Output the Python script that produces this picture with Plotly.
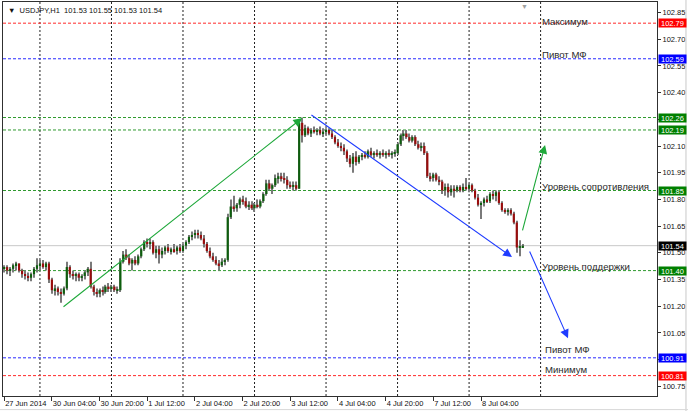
import plotly.graph_objects as go

# ---------------- data ----------------
title_text = "USDJPY,H1  101.53 101.55 101.53 101.54"

opens = [
    101.41,101.42,101.40,101.41,101.43,101.44,101.40,101.38,101.37,101.36,
    101.38,101.41,101.43,101.44,101.42,101.44,101.35,101.29,101.30,101.28,
    101.27,101.30,101.42,101.38,101.37,101.38,101.36,101.37,101.39,101.41,
    101.31,101.28,101.27,101.29,101.28,101.31,101.30,101.31,101.29,101.29,
    101.45,101.49,101.47,101.44,101.46,101.44,101.48,101.52,101.56,101.55,
    101.56,101.50,101.52,101.49,101.51,101.53,101.51,101.52,101.51,101.53,
    101.51,101.54,101.56,101.59,101.60,101.61,101.60,101.58,101.55,101.51,
    101.48,101.46,101.44,101.43,101.45,101.46,101.70,101.76,101.75,101.77,
    101.80,101.79,101.76,101.77,101.75,101.77,101.76,101.79,101.83,101.89,
    101.86,101.88,101.92,101.93,101.92,101.91,101.88,101.87,101.88,101.86,
    102.23,102.16,102.20,102.17,102.19,102.18,102.19,102.17,102.18,102.19,
    102.17,102.15,102.12,102.10,102.09,102.07,102.03,102.00,102.04,102.01,
    102.04,102.05,102.04,102.07,102.05,102.06,102.05,102.06,102.05,102.06,
    102.05,102.06,102.06,102.11,102.16,102.17,102.15,102.13,102.15,102.11,
    102.09,102.10,102.06,101.93,101.92,101.94,101.91,101.90,101.85,101.87,
    101.84,101.86,101.85,101.87,101.85,101.87,101.86,101.88,101.85,101.81,
    101.77,101.78,101.80,101.79,101.83,101.82,101.84,101.78,101.74,101.73,
    101.74,101.72,101.67,101.53,101.53,
]
highs = [
    101.43,101.43,101.42,101.44,101.45,101.44,101.41,101.40,101.39,101.39,
    101.42,101.47,101.46,101.46,101.45,101.45,101.36,101.32,101.31,101.30,
    101.31,101.45,101.43,101.40,101.39,101.39,101.38,101.40,101.42,101.45,
    101.32,101.30,101.30,101.31,101.32,101.33,101.32,101.32,101.31,101.47,
    101.51,101.52,101.49,101.47,101.48,101.49,101.53,101.57,101.58,101.58,
    101.57,101.54,101.54,101.53,101.54,101.55,101.53,101.55,101.54,101.55,
    101.55,101.57,101.60,101.62,101.63,101.63,101.62,101.60,101.56,101.53,
    101.50,101.48,101.46,101.47,101.47,101.72,101.80,101.82,101.78,101.81,
    101.82,101.81,101.79,101.79,101.78,101.80,101.80,101.84,101.91,101.91,
    101.89,101.94,101.95,101.95,101.95,101.93,101.90,101.90,101.90,102.25,
    102.26,102.22,102.21,102.20,102.21,102.20,102.21,102.20,102.20,102.20,
    102.19,102.16,102.14,102.12,102.11,102.08,102.05,102.06,102.07,102.05,
    102.06,102.07,102.08,102.09,102.07,102.08,102.07,102.08,102.07,102.08,
    102.07,102.08,102.12,102.17,102.19,102.19,102.17,102.16,102.16,102.13,
    102.12,102.12,102.07,101.95,101.95,101.95,101.93,101.91,101.89,101.89,
    101.88,101.88,101.88,101.88,101.89,101.92,101.89,101.89,101.86,101.83,
    101.79,101.81,101.82,101.84,101.85,101.85,101.85,101.79,101.75,101.75,
    101.75,101.73,101.68,101.57,101.55,
]
lows = [
    101.39,101.38,101.37,101.39,101.40,101.39,101.36,101.35,101.34,101.34,
    101.36,101.39,101.40,101.41,101.40,101.33,101.27,101.26,101.26,101.22,
    101.26,101.29,101.36,101.35,101.34,101.34,101.34,101.35,101.37,101.30,
    101.26,101.25,101.25,101.26,101.27,101.28,101.28,101.28,101.27,101.28,
    101.44,101.46,101.43,101.40,101.43,101.43,101.47,101.51,101.53,101.52,
    101.49,101.47,101.44,101.47,101.49,101.50,101.49,101.50,101.49,101.50,
    101.50,101.52,101.55,101.57,101.58,101.58,101.57,101.53,101.50,101.47,
    101.45,101.43,101.40,101.42,101.43,101.45,101.69,101.73,101.73,101.75,
    101.77,101.75,101.74,101.74,101.73,101.75,101.75,101.78,101.82,101.85,
    101.83,101.87,101.89,101.90,101.89,101.86,101.86,101.85,101.85,101.86,
    102.12,102.15,102.16,102.15,102.17,102.16,102.16,102.15,102.16,102.16,
    102.14,102.11,102.09,102.07,102.05,102.01,101.98,101.95,101.99,102.00,
    102.02,102.03,102.03,102.04,102.03,102.04,102.03,102.04,102.03,102.04,
    102.03,102.04,102.05,102.10,102.13,102.14,102.12,102.12,102.10,102.08,
    102.07,102.05,101.92,101.90,101.90,101.90,101.88,101.83,101.82,101.81,
    101.82,101.81,101.84,101.84,101.84,101.85,101.84,101.84,101.80,101.76,
    101.69,101.76,101.78,101.78,101.80,101.79,101.77,101.73,101.72,101.71,
    101.71,101.66,101.50,101.48,101.53,
]
closes = [
    101.42,101.40,101.41,101.43,101.44,101.40,101.38,101.37,101.36,101.38,
    101.41,101.43,101.44,101.42,101.44,101.35,101.29,101.30,101.28,101.27,
    101.30,101.42,101.38,101.37,101.38,101.36,101.37,101.39,101.41,101.31,
    101.28,101.27,101.29,101.28,101.31,101.30,101.31,101.29,101.29,101.45,
    101.49,101.47,101.44,101.46,101.44,101.48,101.52,101.56,101.55,101.56,
    101.50,101.52,101.49,101.51,101.53,101.51,101.52,101.51,101.53,101.51,
    101.54,101.56,101.59,101.60,101.61,101.60,101.58,101.55,101.51,101.48,
    101.46,101.44,101.43,101.45,101.46,101.70,101.76,101.75,101.77,101.80,
    101.79,101.76,101.77,101.75,101.77,101.76,101.79,101.83,101.89,101.86,
    101.88,101.92,101.93,101.92,101.91,101.88,101.87,101.88,101.86,102.23,
    102.16,102.20,102.17,102.19,102.18,102.19,102.17,102.18,102.19,102.17,
    102.15,102.12,102.10,102.09,102.07,102.03,102.00,102.04,102.01,102.04,
    102.05,102.04,102.07,102.05,102.06,102.05,102.06,102.05,102.06,102.05,
    102.06,102.06,102.11,102.16,102.17,102.15,102.13,102.15,102.11,102.09,
    102.10,102.06,101.93,101.92,101.94,101.91,101.90,101.85,101.87,101.84,
    101.86,101.85,101.87,101.85,101.87,101.86,101.88,101.85,101.81,101.77,
    101.78,101.80,101.79,101.83,101.82,101.84,101.78,101.74,101.73,101.74,
    101.72,101.67,101.53,101.53,101.54,
]

# x axis: bar index of labelled bars and their labels
x_tick_idx = [0, 16, 32, 48, 64, 80, 96, 112, 128, 144, 160]
x_tick_text = ["27 Jun 2014", "30 Jun 04:00", "30 Jun 20:00", "1 Jul 12:00",
               "2 Jul 04:00", "2 Jul 20:00", "3 Jul 12:00", "4 Jul 04:00",
               "4 Jul 20:00", "7 Jul 12:00", "8 Jul 04:00"]
# day separators (00:00 bars)
day_grid_idx = [12, 36, 60, 84, 108, 132, 156, 180]

# y axis ticks
y_tick_vals = [100.75, 100.90, 101.05, 101.20, 101.35, 101.50, 101.65,
               101.80, 101.95, 102.10, 102.25, 102.40, 102.55, 102.70, 102.85]

# horizontal levels
level_prices = [102.79, 102.59, 102.26, 102.19, 101.85, 101.40, 100.91, 100.81]
level_names = ["Максимум", "Пивот МФ", "", "", "Уровень сопротивления",
               "Уровень поддержки", "Пивот МФ", "Минимум"]
level_kind = ["max", "pivot", "res", "res", "res", "sup", "pivot", "max"]
bid_price = 101.54

# hand-drawn trend arrows (bar index, price) -> (bar index, price)
arrow_start_x = [19.4, 102.6, 173.8, 176.1]
arrow_start_y = [101.19, 102.28, 101.617, 101.516]
arrow_end_x = [100.0, 170.4, 181.5, 189.2]
arrow_end_y = [102.257, 101.476, 102.106, 101.02]
arrow_kind = ["up", "down", "up", "down"]

# ---------------- styles ----------------
FONT = "Liberation Sans"
kind_line_color = {"max": "#ff2a2a", "pivot": "#2a2aff", "res": "#2e9a2e", "sup": "#2e9a2e"}
kind_box_color = {"max": "#ff0000", "pivot": "#0000ff", "res": "#008000", "sup": "#008000"}
arrow_color = {"up": "#1ea83a", "down": "#1f3cff"}
UP_BODY = "#0d5e0d"
DOWN_BODY = "#9a0c0c"
WICK = "#7a7a7a"

n = len(closes)
xs = list(range(n))

fig = go.Figure()

# wicks
fig.add_trace(go.Bar(
    x=xs, base=lows, y=[h - l for h, l in zip(highs, lows)], width=0.36,
    marker=dict(color=WICK, line=dict(width=0)), hoverinfo="skip", showlegend=False))
# bodies
body_base = [min(o, c) for o, c in zip(opens, closes)]
body_h = [max(abs(c - o), 0.004) for o, c in zip(opens, closes)]
body_col = [UP_BODY if c >= o else DOWN_BODY for o, c in zip(opens, closes)]
fig.add_trace(go.Bar(
    x=xs, base=body_base, y=body_h, width=0.72,
    marker=dict(color=body_col, line=dict(width=0)), hoverinfo="skip", showlegend=False))

shapes = []
for g in day_grid_idx:
    shapes.append(dict(type="line", xref="x", yref="paper", x0=g, x1=g, y0=0, y1=1,
                       line=dict(color="#202020", width=1, dash="2px,2px"), layer="below"))
for p, k in zip(level_prices, level_kind):
    shapes.append(dict(type="line", xref="paper", yref="y", x0=0, x1=1, y0=p, y1=p,
                       line=dict(color=kind_line_color[k], width=1, dash="3px,2px"), layer="below"))
shapes.append(dict(type="line", xref="paper", yref="y", x0=0, x1=1, y0=bid_price, y1=bid_price,
                   line=dict(color="#c8c8c8", width=1), layer="below"))
# window borders
shapes.append(dict(type="line", xref="paper", yref="paper", x0=1.0443, x1=1.0443, y0=-0.04, y1=1.01,
                   line=dict(color="#c8c8c8", width=1)))
shapes.append(dict(type="line", xref="paper", yref="paper", x0=-0.01, x1=1.06, y0=-0.0345, y1=-0.0345,
                   line=dict(color="#d8d8d8", width=1)))

annotations = []
# level text labels
label_shift = {0: (180, 2), 1: (180, 4), 4: (180, 4.5), 5: (180, 4.5), 6: (181.2, 8), 7: (181.0, 6.5)}
for i, (p, t) in enumerate(zip(level_prices, level_names)):
    if not t:
        continue
    lx, ys = label_shift[i]
    annotations.append(dict(x=lx, y=p, xref="x", yref="y", text=t, showarrow=False,
                            xanchor="left", yanchor="middle", yshift=ys, xshift=-1,
                            font=dict(family=FONT, size=9.6, color="#2a2a2a")))
# right axis price boxes
for p, k in zip(level_prices, level_kind):
    annotations.append(dict(x=1, y=p, xref="paper", yref="y", text=f"{p:.2f}", showarrow=False,
                            xanchor="left", yanchor="middle", xshift=1, bgcolor=kind_box_color[k],
                            width=27, height=8, borderpad=0, align="center",
                            font=dict(family=FONT, size=7.5, color="white")))
annotations.append(dict(x=1, y=bid_price, xref="paper", yref="y", text=f"{bid_price:.2f}",
                        showarrow=False, xanchor="left", yanchor="middle", xshift=1, bgcolor="#000000",
                        width=27, height=8, borderpad=0, align="center",
                        font=dict(family=FONT, size=7.5, color="white")))
# arrows
for sx, sy, ex, ey, k in zip(arrow_start_x, arrow_start_y, arrow_end_x, arrow_end_y, arrow_kind):
    annotations.append(dict(x=ex, y=ey, ax=sx, ay=sy, xref="x", yref="y", axref="x", ayref="y",
                            text="", showarrow=True, arrowhead=2, arrowsize=1.6, arrowwidth=1.1,
                            arrowcolor=arrow_color[k]))
# title
annotations.append(dict(x=0, y=1, xref="paper", yref="paper", text="▼  " + title_text,
                        showarrow=False, xanchor="left", yanchor="top", xshift=3, yshift=-2,
                        font=dict(family=FONT, size=7.5, color="#101010")))
# chart shift marker
annotations.append(dict(x=0.798, y=1, xref="paper", yref="paper", text="▼", showarrow=False,
                        xanchor="center", yanchor="top", yshift=1,
                        font=dict(family=FONT, size=7, color="#a0a0a0")))

fig.update_layout(
    width=688, height=411,
    margin=dict(l=3, r=31, t=2, b=15, autoexpand=False),
    paper_bgcolor="white", plot_bgcolor="white",
    barmode="overlay", showlegend=False,
    shapes=shapes, annotations=annotations,
    font=dict(family=FONT, size=7.5, color="#101010"),
)
fig.update_xaxes(
    range=[-0.4, 219.06], tickmode="array", tickvals=x_tick_idx, ticktext=x_tick_text,
    ticks="outside", ticklen=4, tickcolor="#303030", ticklabelposition="outside right",
    tickangle=0, automargin=False,
    showgrid=False, zeroline=False, showline=True, mirror=True, linecolor="#303030", linewidth=1,
    tickfont=dict(family=FONT, size=7.5, color="#101010"),
)
fig.update_yaxes(
    side="right", range=[100.6955, 102.909], tickmode="array", tickvals=y_tick_vals,
    ticktext=[f"{v:.2f}" for v in y_tick_vals], automargin=False,
    ticks="outside", ticklen=3, tickcolor="#303030",
    showgrid=False, zeroline=False, showline=True, mirror=True, linecolor="#303030", linewidth=1,
    tickfont=dict(family=FONT, size=7.5, color="#101010"),
)

fig.write_html(
    "out.html",
    config={"displayModeBar": False},
    post_script="document.body.style.margin='0';document.body.style.overflow='hidden';",
)
